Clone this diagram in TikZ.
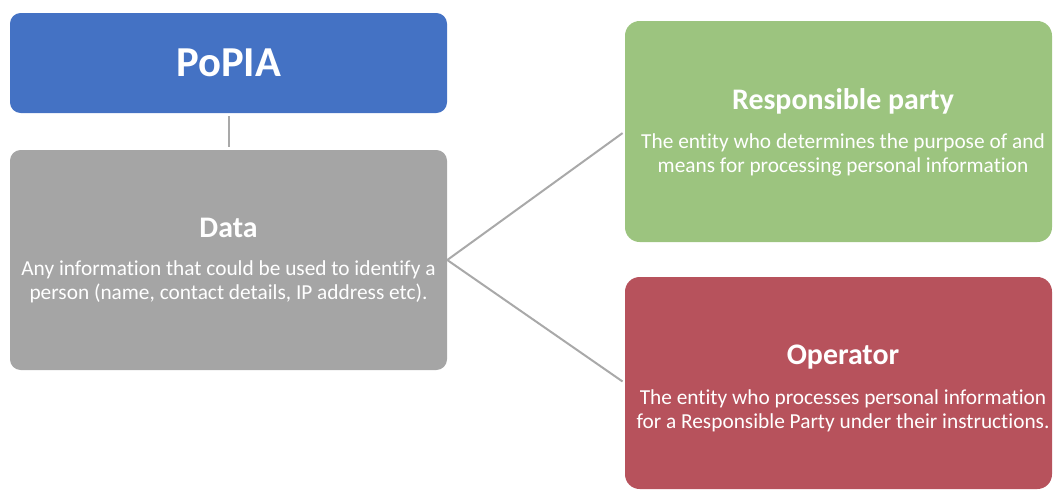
\documentclass[tikz,border=0pt]{standalone}
\usepackage{fontspec}
\setmainfont{Carlito}[Ligatures=NoCommon]
\definecolor{cblue}{HTML}{4472C4}
\definecolor{cgray}{HTML}{A5A5A5}
\definecolor{cgreen}{HTML}{9CC47F}
\definecolor{cred}{HTML}{B7525C}
\definecolor{cline}{HTML}{A9A9A9}
\begin{document}
\begin{tikzpicture}[x=0.75pt,y=-0.75pt,
  box/.style={rounded corners=8pt,draw=none,inner sep=0pt,anchor=center},
  ttl/.style={text=white,font=\fontsize{22.4}{26}\selectfont\bfseries,inner sep=0pt},
  body/.style={text=white,font=\fontsize{16}{18}\selectfont,align=center,inner sep=0pt},
  conn/.style={draw=cline,line width=1.5pt}]
\useasboundingbox (0,0) rectangle (1053,490);
\clip (0,0) rectangle (1053,490);
\node[box,fill=cblue,minimum width=437*0.75pt,minimum height=100*0.75pt] (popia) at (228.5,63) {};
\node[box,fill=cgray,minimum width=437*0.75pt,minimum height=220*0.75pt] (data) at (228.5,260) {};
\node[box,fill=cgreen,minimum width=427*0.75pt,minimum height=221*0.75pt,rounded corners=11pt] (resp) at (838.5,131.5) {};
\node[box,fill=cred,minimum width=427*0.75pt,minimum height=212*0.75pt,rounded corners=11pt] (oper) at (838.5,383) {};
\node[text=white,font=\fontsize{32}{36}\selectfont\bfseries,inner sep=0pt] (popiat) at (228.5,63) {PoPIA};
\node[ttl] (datat) at (228.5,228) {Data};
\node[body] (datab) at (228.5,282) {Any information that could be used to identify a\\person (name, contact details, IP address etc).};
\node[ttl] (respt) at (843,101) {Responsible party};
\node[body] (respb) at (843,155) {The entity who determines the purpose of and\\means for processing personal information};
\node[ttl] (opert) at (843,357) {Operator};
\node[body] (operb) at (843,411) {The entity who processes personal information\\for a Responsible Party under their instructions.};
\draw[conn,shorten <=2pt,shorten >=2pt] (popia.south) -- (data.north);
\draw[conn,shorten >=2pt] (data.east) -- (resp.west);
\draw[conn,shorten >=2pt] (data.east) -- (oper.west);
\end{tikzpicture}
\end{document}
